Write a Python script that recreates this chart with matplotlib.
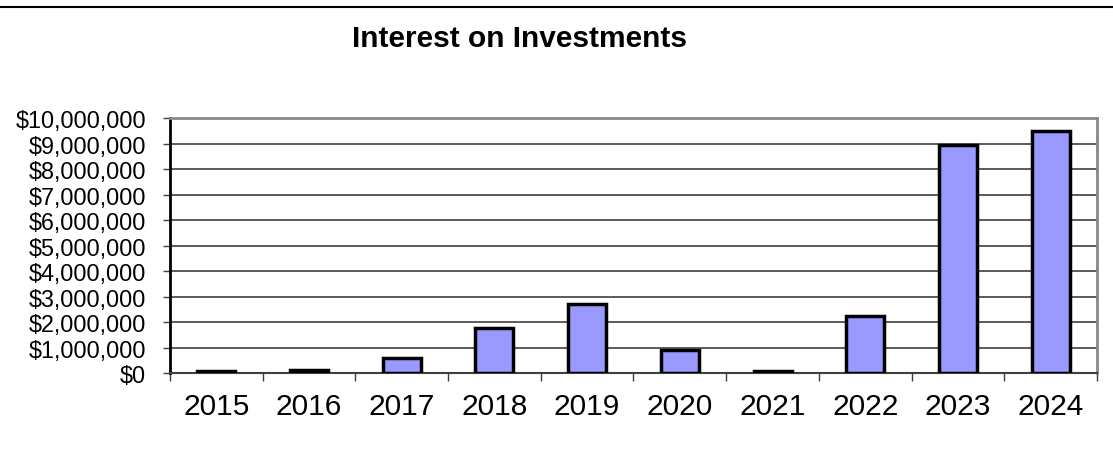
import matplotlib.pyplot as plt
from matplotlib.lines import Line2D
from matplotlib.ticker import FuncFormatter, MultipleLocator
import numpy as np

plt.rcParams['font.family'] = ['Liberation Sans', 'DejaVu Sans']

years = ['2015', '2016', '2017', '2018', '2019', '2020', '2021', '2022', '2023', '2024']
interest = [90000, 100000, 590000, 1780000, 2700000, 920000, 70000, 2250000, 8950000, 9490000]

fig = plt.figure(figsize=(11.13, 4.56), dpi=100)
ax = fig.add_axes([0.1527, 0.1798, 0.9856 - 0.1527, 0.739 - 0.1798])

x = np.arange(len(years))
ax.bar(x, interest, width=0.41, color='#9999ff', edgecolor='black', linewidth=2.5, zorder=3)

ax.set_xlim(-0.5, len(years) - 0.5)
ax.set_ylim(0, 10000000)
ax.yaxis.set_major_locator(MultipleLocator(1000000))
ax.yaxis.set_major_formatter(FuncFormatter(lambda v, p: '${:,.0f}'.format(v)))
ax.grid(axis='y', color='#404040', linewidth=1.2, zorder=0)

# category labels centred, ticks on the boundaries
ax.set_xticks(x)
ax.set_xticklabels(years, fontsize=21.5)
ax.tick_params(axis='x', which='major', length=0, pad=14)
ax.set_xticks(np.arange(len(years) + 1) - 0.5, minor=True)
ax.tick_params(axis='x', which='minor', length=6, width=1, color='#404040')
ax.tick_params(axis='y', length=5, width=1, labelsize=16.8, pad=12, color='#404040')

ax.spines['left'].set_linewidth(2)
ax.spines['left'].set_color('black')
ax.spines['bottom'].set_linewidth(1.5)
ax.spines['bottom'].set_color('#404040')
ax.spines['top'].set_color('#888888')
ax.spines['top'].set_linewidth(2)
ax.spines['right'].set_color('#888888')
ax.spines['right'].set_linewidth(2)

fig.text(0.467, 0.914, 'Interest on Investments', ha='center', va='center',
         fontsize=21.5, fontweight='bold')

fig.add_artist(Line2D([0, 1], [1 - 8 / 456, 1 - 8 / 456], color='black', linewidth=1.5))

fig.savefig('out.png', dpi=100)
